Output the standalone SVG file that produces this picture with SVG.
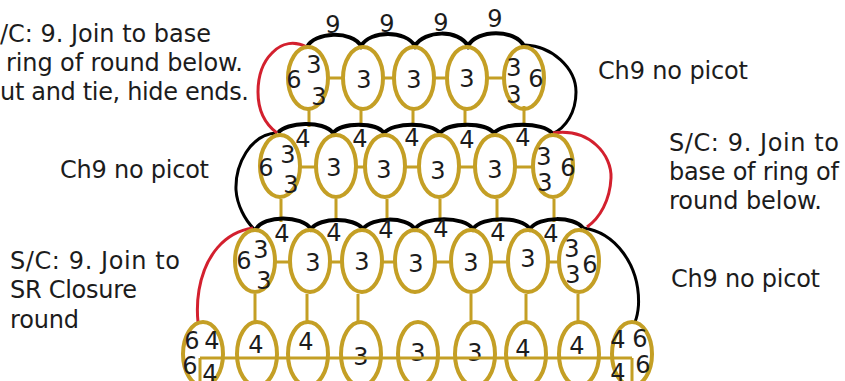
<svg xmlns="http://www.w3.org/2000/svg" width="845" height="381" viewBox="0 0 845 381">
<style>
.r{fill:none;stroke:#c49f25;stroke-width:4}
.l{stroke:#c49f25;stroke-width:3;fill:none}
.k{stroke:#000;stroke-width:4;fill:none}
.t{stroke:#000;stroke-width:3;fill:none}
.e{stroke:#d3202e;stroke-width:3;fill:none}
text{font-family:"DejaVu Sans",Verdana,sans-serif;fill:#1c1c1c}
.c{font-size:24px}
.n{font-size:24px;text-anchor:middle}
</style>
<rect width="845" height="381" fill="#fff"/>
<g id="connectors">
<path class="l" d="M329 78H342M384 78H393M435 78H445M488 78H503M309 110V127M361 110V127M413 110V127M465 110V127M524 106V127"/>
<path class="l" d="M301 167H315M357 167H364M406 167H418M460 167H474M516 167H532M281 199V222M336 199V222M387 199V222M440 199V222M497 199V222M554 199V222"/>
<path class="l" d="M276 262H289M331 262H341M383 262H394M436 262H450M492 262H507M549 262H558M255 294V321M307 294V321M358 294V321M471 294V321M526 294V321M578 294V321"/>
<path class="k" d="M307 47C314 32 352 30 361 46C370 30 406 30 415 46C424 30 459 29 468 46C477 29 515 29 524 46"/>
<path class="k" d="M278 133C286 122 324 120 333 133C342 122 376 122 384 133C393 122 431 122 440 133C449 122 485 122 494 133C503 122 543 122 552 133"/>
<path class="k" d="M256 229C264 215 302 215 311 229C320 217 354 217 363 229C372 217 406 216 415 229C424 216 464 216 473 229C482 216 521 216 530 229C539 216 574 216 583 228"/>
<path class="t" d="M525 45C552 46 576 68 576 92C576 112 566 128 552 134"/>
<path class="t" d="M277 133C250 134 235 165 236 190C237 205 245 220 254 229"/>
<path class="t" d="M583 228C615 232 640 265 638.5 305C638 312 637 317 635 322"/>
<path class="e" d="M307 47C295 41 282 42 272 53C262 63 258 78 258 92C258 110 265 124 277 133"/>
<path class="e" d="M553 133C590 128 612 155 611 178C610 200 600 218 587 227"/>
<path class="e" d="M253 228C225 232 205 255 199 290C197 302 197 312 198 322"/>
</g>
<g id="n1"><ellipse class="r" cx="308" cy="78" rx="20" ry="31"/><text class="n" x="294" y="88">6</text><text class="n" x="314" y="73">3</text><text class="n" x="319" y="105">3</text></g>
<g id="n2"><ellipse class="r" cx="363" cy="78" rx="20" ry="31"/><text class="n" x="364" y="88">3</text></g>
<g id="n3"><ellipse class="r" cx="414" cy="78" rx="20" ry="31"/><text class="n" x="414" y="88">3</text></g>
<g id="n4"><ellipse class="r" cx="467" cy="78" rx="20" ry="31"/><text class="n" x="467" y="87">3</text></g>
<g id="n5"><ellipse class="r" cx="524" cy="78" rx="20" ry="31"/><text class="n" x="514" y="76">3</text><text class="n" x="514" y="103">3</text><text class="n" x="536" y="87">6</text></g>
<g id="n6"><ellipse class="r" cx="280" cy="166" rx="20" ry="31"/><text class="n" x="266" y="176">6</text><text class="n" x="288" y="163">3</text><text class="n" x="291" y="193">3</text></g>
<g id="n7"><ellipse class="r" cx="336" cy="166" rx="20" ry="31"/><text class="n" x="334" y="176">3</text></g>
<g id="n8"><ellipse class="r" cx="385" cy="166" rx="20" ry="31"/><text class="n" x="384" y="178">3</text></g>
<g id="n9"><ellipse class="r" cx="439" cy="166" rx="20" ry="31"/><text class="n" x="438" y="179">3</text></g>
<g id="n10"><ellipse class="r" cx="495" cy="166" rx="20" ry="31"/><text class="n" x="495" y="178">3</text></g>
<g id="n11"><ellipse class="r" cx="553" cy="166" rx="20" ry="31"/><text class="n" x="544" y="165">3</text><text class="n" x="545" y="191">3</text><text class="n" x="568" y="176">6</text></g>
<g id="n12"><ellipse class="r" cx="255" cy="261" rx="20" ry="31"/><text class="n" x="244" y="269">6</text><text class="n" x="261" y="258">3</text><text class="n" x="264" y="289">3</text></g>
<g id="n13"><ellipse class="r" cx="310" cy="261" rx="20" ry="31"/><text class="n" x="313" y="271">3</text></g>
<g id="n14"><ellipse class="r" cx="362" cy="261" rx="20" ry="31"/><text class="n" x="362" y="270">3</text></g>
<g id="n15"><ellipse class="r" cx="415" cy="261" rx="20" ry="31"/><text class="n" x="416" y="272">3</text></g>
<g id="n16"><ellipse class="r" cx="471" cy="261" rx="20" ry="31"/><text class="n" x="471" y="271">3</text></g>
<g id="n17"><ellipse class="r" cx="528" cy="261" rx="20" ry="31"/><text class="n" x="528" y="267">3</text></g>
<g id="n18"><ellipse class="r" cx="579" cy="261" rx="20" ry="31"/><text class="n" x="572" y="257">3</text><text class="n" x="573" y="283">3</text><text class="n" x="590" y="273">6</text></g>
<g id="n19"><ellipse class="r" cx="203" cy="354" rx="20" ry="32"/><text class="n" x="192" y="349">6</text><text class="n" x="212" y="349">4</text><text class="n" x="190" y="374">6</text><text class="n" x="210" y="382">4</text></g>
<g id="n20"><ellipse class="r" cx="257" cy="354" rx="20" ry="32"/><text class="n" x="256" y="353">4</text></g>
<g id="n21"><ellipse class="r" cx="308" cy="354" rx="20" ry="32"/><text class="n" x="306" y="350">4</text></g>
<g id="n22"><ellipse class="r" cx="361" cy="354" rx="20" ry="32"/><text class="n" x="361" y="365">3</text></g>
<g id="n23"><ellipse class="r" cx="418" cy="354" rx="20" ry="32"/><text class="n" x="418" y="361">3</text></g>
<g id="n24"><ellipse class="r" cx="475" cy="354" rx="20" ry="32"/><text class="n" x="475" y="361">3</text></g>
<g id="n25"><ellipse class="r" cx="526" cy="354" rx="20" ry="32"/><text class="n" x="523" y="357">4</text></g>
<g id="n26"><ellipse class="r" cx="579" cy="354" rx="20" ry="32"/><text class="n" x="577" y="354">4</text></g>
<g id="n27"><ellipse class="r" cx="632" cy="354" rx="20" ry="32"/><text class="n" x="618" y="348">4</text><text class="n" x="640" y="347">6</text><text class="n" x="618" y="381">4</text><text class="n" x="643" y="373">6</text></g>
<g id="labels">
<path class="l" d="M200 358H632M200 358V381M632 358V381"/>
<text class="n" x="333" y="33">9</text><text class="n" x="387" y="32">9</text><text class="n" x="441" y="31">9</text><text class="n" x="495" y="27">9</text>
<text class="n" x="303" y="147">4</text><text class="n" x="360" y="147">4</text><text class="n" x="412" y="146">4</text><text class="n" x="467" y="148">4</text><text class="n" x="523" y="146">4</text>
<text class="n" x="282" y="242">4</text><text class="n" x="334" y="241">4</text><text class="n" x="386" y="238">4</text><text class="n" x="441" y="237">4</text><text class="n" x="498" y="241">4</text><text class="n" x="551" y="242">4</text>
<text class="c" x="0" y="42" textLength="211">/C: 9. Join to base</text>
<text class="c" x="6" y="71" textLength="237">ring of round below.</text>
<text class="c" x="0" y="100" textLength="249">ut and tie, hide ends.</text>
<text class="c" x="598" y="79" textLength="150">Ch9 no picot</text>
<text class="c" x="60" y="178" textLength="149">Ch9 no picot</text>
<text class="c" x="669" y="151" textLength="170">S/C: 9. Join to</text>
<text class="c" x="669" y="180" textLength="170">base of ring of</text>
<text class="c" x="669" y="209" textLength="153">round below.</text>
<text class="c" x="10" y="269" textLength="170">S/C: 9. Join to</text>
<text class="c" x="10" y="298" textLength="127">SR Closure</text>
<text class="c" x="10" y="328" textLength="69">round</text>
<text class="c" x="671" y="287" textLength="149">Ch9 no picot</text>
</g>
</svg>
